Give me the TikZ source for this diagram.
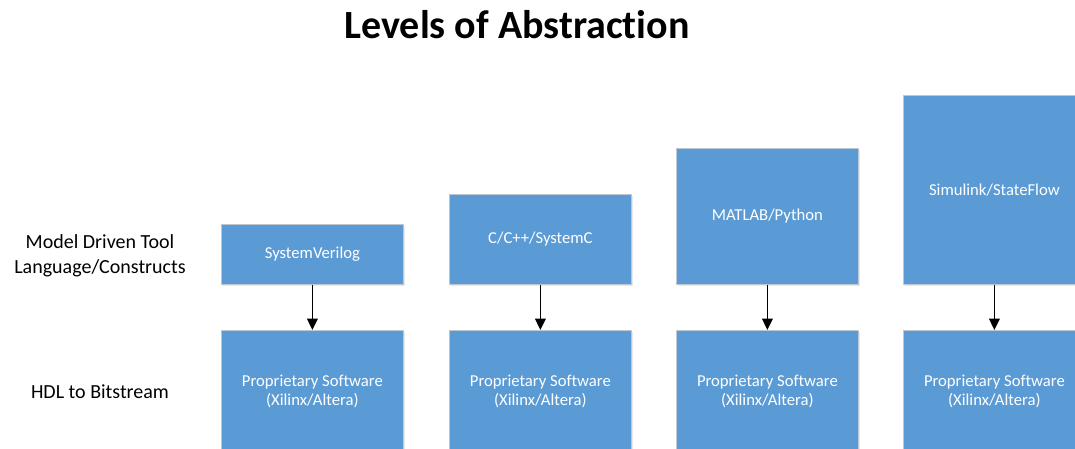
\documentclass[tikz,border=0pt]{standalone}
\usepackage{fontspec}
\setmainfont{Carlito}[Ligatures=NoCommon]
\usetikzlibrary{arrows.meta,shadows}
\definecolor{boxblue}{HTML}{5B9BD5}
\definecolor{boxedge}{HTML}{BFC7D0}
\tikzset{
  >={Triangle[length=8.5pt,width=8pt]},
  % kästchen
  tb/.style={rectangle,anchor=north west,fill=boxblue,draw=boxedge,line width=0.6pt,
             minimum width=136.5pt,text=white,align=center,inner sep=2pt,
             font=\fontsize{12.5}{14.3}\selectfont,
             drop shadow={shadow xshift=1pt,shadow yshift=-1pt,opacity=0.18}},
  lbl/.style={align=center,font=\fontsize{15}{18.8}\selectfont},
  arr/.style={->,draw=black,line width=1.1pt},
}
\begin{document}
\begin{tikzpicture}[x=0.75pt,y=-0.75pt]
\useasboundingbox (0,0) rectangle (1075,449);
  \node[font=\fontsize{30}{36}\selectfont\bfseries] (title) at (517,25) {Levels of Abstraction};
  \node[lbl] (mdt) at (100,256) {Model Driven Tool\\Language/Constructs};
  \node[lbl] (hdl) at (100,392) {HDL to Bitstream};
  % obere Reihe
  \node[tb,minimum height=45pt]    (sv)  at (221,224) {SystemVerilog};
  \node[tb,minimum height=67.5pt]  (cc)  at (449,194) {C/C++/SystemC};
  \node[tb,minimum height=102pt]   (ml)  at (676,148) {MATLAB/Python};
  \node[tb,minimum height=141.75pt](sl)  at (903,95)  {Simulink/StateFlow};
  % untere Reihe
  \node[tb,minimum height=91.5pt] (ps1) at (221,330) {Proprietary Software\\(Xilinx/Altera)};
  \node[tb,minimum height=91.5pt] (ps2) at (449,330) {Proprietary Software\\(Xilinx/Altera)};
  \node[tb,minimum height=91.5pt] (ps3) at (676,330) {Proprietary Software\\(Xilinx/Altera)};
  \node[tb,minimum height=91.5pt] (ps4) at (903,330) {Proprietary Software\\(Xilinx/Altera)};
  \draw[arr] (sv) -- (ps1);
  \draw[arr] (cc) -- (ps2);
  \draw[arr] (ml) -- (ps3);
  \draw[arr] (sl) -- (ps4);
\end{tikzpicture}
\end{document}
